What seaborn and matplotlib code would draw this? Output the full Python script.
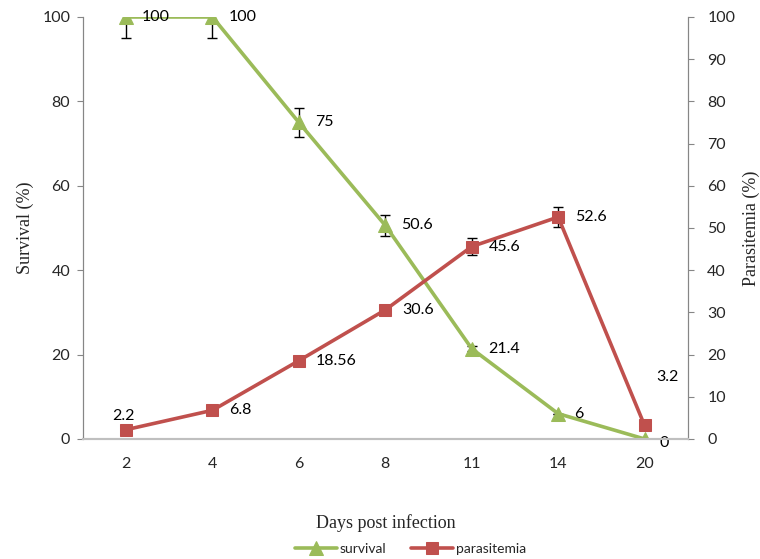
import numpy as np
import pandas as pd
import seaborn as sns
import matplotlib
matplotlib.use("Agg")
import matplotlib.pyplot as plt

# dados
dias = ["2", "4", "6", "8", "11", "14", "20"]
sobrevivencia = [100, 100, 75, 50.6, 21.4, 6, 0]
sobrev_erro = [5, 5, 3.5, 2.4, 0.6, 0, 0]
parasitemia = [2.2, 6.8, 18.56, 30.6, 45.6, 52.6, 3.2]
paras_erro = [0, 0, 0, 1.0, 2.0, 2.4, 0]
rotulos_sobrev = ["100", "100", "75", "50.6", "21.4", "6", "0"]
rotulos_paras = ["2.2", "6.8", "18.56", "30.6", "45.6", "52.6", "3.2"]

verde = "#9BBB59"
vermelho = "#C0504D"
cinza = "#868686"

sns.set_style("white")
plt.rcParams["font.family"] = ["Lato", "DejaVu Sans"]

df = pd.DataFrame({"dia": dias, "survival": sobrevivencia, "parasitemia": parasitemia})

fig = plt.figure(figsize=(7.6, 5.59), dpi=100)
ax = fig.add_axes([0.109, 0.2147, 0.796, 0.7549])
ax2 = ax.twinx()

sns.lineplot(data=df, x="dia", y="survival", ax=ax, color=verde, lw=2.6,
             marker="^", markersize=10, markeredgecolor=verde, label="survival",
             legend=False, zorder=3)
sns.lineplot(data=df, x="dia", y="parasitemia", ax=ax2, color=vermelho, lw=2.6,
             marker="s", markersize=9, markeredgecolor=vermelho, label="parasitemia",
             legend=False, zorder=3)

pos = np.arange(len(dias))
ax.errorbar(pos, sobrevivencia, yerr=sobrev_erro, fmt="none", ecolor="black",
            elinewidth=1, capsize=3.5, capthick=1, zorder=2)
ax2.errorbar(pos, parasitemia, yerr=paras_erro, fmt="none", ecolor="black",
             elinewidth=1, capsize=3.5, capthick=1, zorder=2)

# rotulos dos pontos
for i in range(len(dias)):
    dx, dy, ha = 16, 0, "left"
    if i == 6:
        dx, dy = 15, -4
    ax.annotate(rotulos_sobrev[i], (pos[i], sobrevivencia[i]), xytext=(dx, dy),
                textcoords="offset pixels", ha=ha, va="center", fontsize=11.5, color="black",
                annotation_clip=False)
for i in range(len(dias)):
    dx, dy, ha = 17, 0, "left"
    if i == 0:
        dx, dy, ha = -3, 14, "center"
    if i == 6:
        dx, dy = 12, 48
    ax2.annotate(rotulos_paras[i], (pos[i], parasitemia[i]), xytext=(dx, dy),
                 textcoords="offset pixels", ha=ha, va="center", fontsize=11.5, color="black",
                 annotation_clip=False)

ax.set_xlim(-0.5, len(dias) - 0.5)
ax.set_ylim(0, 100)
ax2.set_ylim(0, 100)
ax.set_yticks(np.arange(0, 101, 20))
ax2.set_yticks(np.arange(0, 101, 10))

for a in (ax, ax2):
    a.spines["top"].set_visible(False)
    a.spines["left"].set_color(cinza)
    a.spines["right"].set_color(cinza)
    a.spines["bottom"].set_color("#BFBFBF")
    a.spines["bottom"].set_linewidth(1.5)
    a.set_xlabel("")

ax.tick_params(axis="y", which="both", left=True, direction="out", length=4,
               color=cinza, labelsize=11.5, pad=5)
ax2.tick_params(axis="y", which="both", right=True, direction="out", length=4,
                color=cinza, labelsize=11.5, pad=10)
ax2.tick_params(axis="x", bottom=False, labelbottom=False)
ax.tick_params(axis="x", bottom=True, length=0, color="none", labelbottom=True,
               labelsize=11.5, pad=13)

serif = ["Liberation Serif", "DejaVu Serif"]
ax.set_ylabel("Survival (%)", fontsize=13, family=serif, labelpad=6)
ax2.set_ylabel("Parasitemia (%)", fontsize=13, family=serif, labelpad=5)
ax.set_xlabel("Days post infection", fontsize=13, family=serif, labelpad=31)

h1, l1 = ax.get_legend_handles_labels()
h2, l2 = ax2.get_legend_handles_labels()
fig.legend(h1 + h2, l1 + l2, loc="lower center", bbox_to_anchor=(0.54, -0.015),
           ncol=2, frameon=False, fontsize=10, handlelength=3, columnspacing=1.8,
           handletextpad=0.2)

fig.savefig("out.png", dpi=100)
